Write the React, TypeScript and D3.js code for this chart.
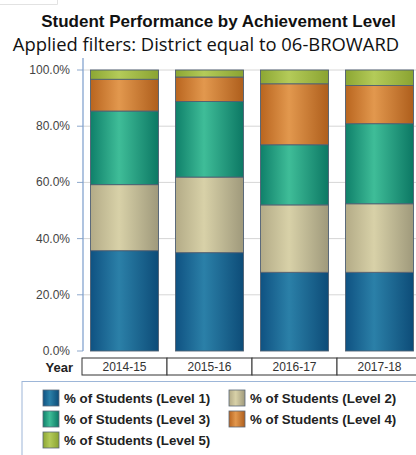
import React from "react";
import * as d3 from "d3";

const years = ["2014-15", "2015-16", "2016-17", "2017-18"];
const level1 = [35.7, 35.0, 28.0, 28.0];
const level2 = [23.5, 26.9, 24.0, 24.4];
const level3 = [26.2, 26.9, 21.4, 28.5];
const level4 = [11.3, 8.7, 21.7, 13.6];
const level5 = [3.3, 2.5, 4.9, 5.5];
const seriesNames = [
  "% of Students (Level 1)",
  "% of Students (Level 2)",
  "% of Students (Level 3)",
  "% of Students (Level 4)",
  "% of Students (Level 5)",
];
const yTicks = [0, 20, 40, 60, 80, 100];

const palettes = [
  ["#0f5282", "#2b80a8", "#0d4c78"],
  ["#b3ab87", "#d8d1a8", "#9f997b"],
  ["#0f806a", "#3fbd98", "#0c7864"],
  ["#b9651f", "#e2984e", "#ae5e1c"],
  ["#8ca633", "#b4cb59", "#8aa331"],
];

export default function App() {
  const W = 416;
  const H = 455;
  const x = d3.scaleBand<string>().domain(years).range([82, 422]).paddingInner(0.2).paddingOuter(0.1);
  const y = d3.scaleLinear().domain([0, 100]).range([351, 70]);
  const data = years.map((yr, i) => ({
    year: yr,
    l1: level1[i],
    l2: level2[i],
    l3: level3[i],
    l4: level4[i],
    l5: level5[i],
  }));
  const keys = ["l1", "l2", "l3", "l4", "l5"];
  const stacked = d3.stack<any>().keys(keys)(data);
  const step = x.step();
  const axisX = 83;
  const font = "'Liberation Sans', Arial, sans-serif";

  return (
    <div style={{ position: "fixed", left: 0, top: 0 }}>
      <svg width={W} height={H} style={{ display: "block", background: "#fff" }}>
        <defs>
          {palettes.map((p, i) => (
            <linearGradient key={i} id={`g${i}`} x1="0" y1="0" x2="1" y2="0">
              <stop offset="0" stopColor={p[0]} />
              <stop offset="0.42" stopColor={p[1]} />
              <stop offset="1" stopColor={p[2]} />
            </linearGradient>
          ))}
        </defs>
        <path d="M0,4.5H57.5V0" fill="none" stroke="#e2e2e2" strokeWidth={1} />
        <text x={218.5} y={27} textAnchor="middle" fontFamily={font} fontWeight="bold" fontSize={17} fill="#111">
          Student Performance by Achievement Level
        </text>
        <text x={206} y={51} textAnchor="middle" fontFamily="'Open Sans', sans-serif" fontSize={18.4} fill="#111">
          Applied filters: District equal to 06-BROWARD
        </text>
        {yTicks.map((t) => (
          <g key={t}>
            {t > 0 && <line x1={axisX} x2={W} y1={y(t)} y2={y(t)} stroke="#d6d6d6" strokeWidth={1} />}
            <line x1={77} x2={axisX} y1={y(t)} y2={y(t)} stroke="#8fa9cc" strokeWidth={1} />
            <text x={70} y={y(t) + 4} textAnchor="end" fontFamily={font} fontSize={12} fill="#444">
              {t.toFixed(1)}%
            </text>
          </g>
        ))}
        <line x1={axisX} x2={axisX} y1={58} y2={351} stroke="#7a9ccc" strokeWidth={1.2} />
        {stacked.map((s, si) => (
          <g key={si}>
            {s.map((d, di) => (
              <rect
                key={di}
                x={x(years[di])}
                width={x.bandwidth()}
                y={y(d[1])}
                height={y(d[0]) - y(d[1])}
                fill={`url(#g${si})`}
                stroke="#4f5f72"
                strokeWidth={0.9}
              />
            ))}
          </g>
        ))}
        <text x={73} y={372} textAnchor="end" fontFamily={font} fontWeight="bold" fontSize={13} fill="#222">
          Year
        </text>
        {years.map((yr) => {
          const cx = (x(yr) as number) + x.bandwidth() / 2;
          return (
            <g key={yr}>
              <rect x={cx - step / 2} y={358} width={step} height={17} fill="#fff" stroke="#333" strokeWidth={1} />
              <text x={cx} y={371} textAnchor="middle" fontFamily={font} fontSize={12} fill="#333">
                {yr}
              </text>
            </g>
          );
        })}
        <rect x={22} y={381.5} width={420} height={100} fill="#fff" stroke="#9db6d8" strokeWidth={1} />
        {seriesNames.map((name, i) => {
          const col = i % 2;
          const row = Math.floor(i / 2);
          const lx = col === 0 ? 43 : 229;
          const ly = 390 + row * 21;
          return (
            <g key={name}>
              <rect x={lx} y={ly} width={16} height={16} fill={`url(#g${i})`} stroke="#5a6878" strokeWidth={0.8} />
              <text x={lx + 21} y={ly + 12.5} fontFamily={font} fontWeight="bold" fontSize={13.3} fill="#222">
                {name}
              </text>
            </g>
          );
        })}
      </svg>
    </div>
  );
}
